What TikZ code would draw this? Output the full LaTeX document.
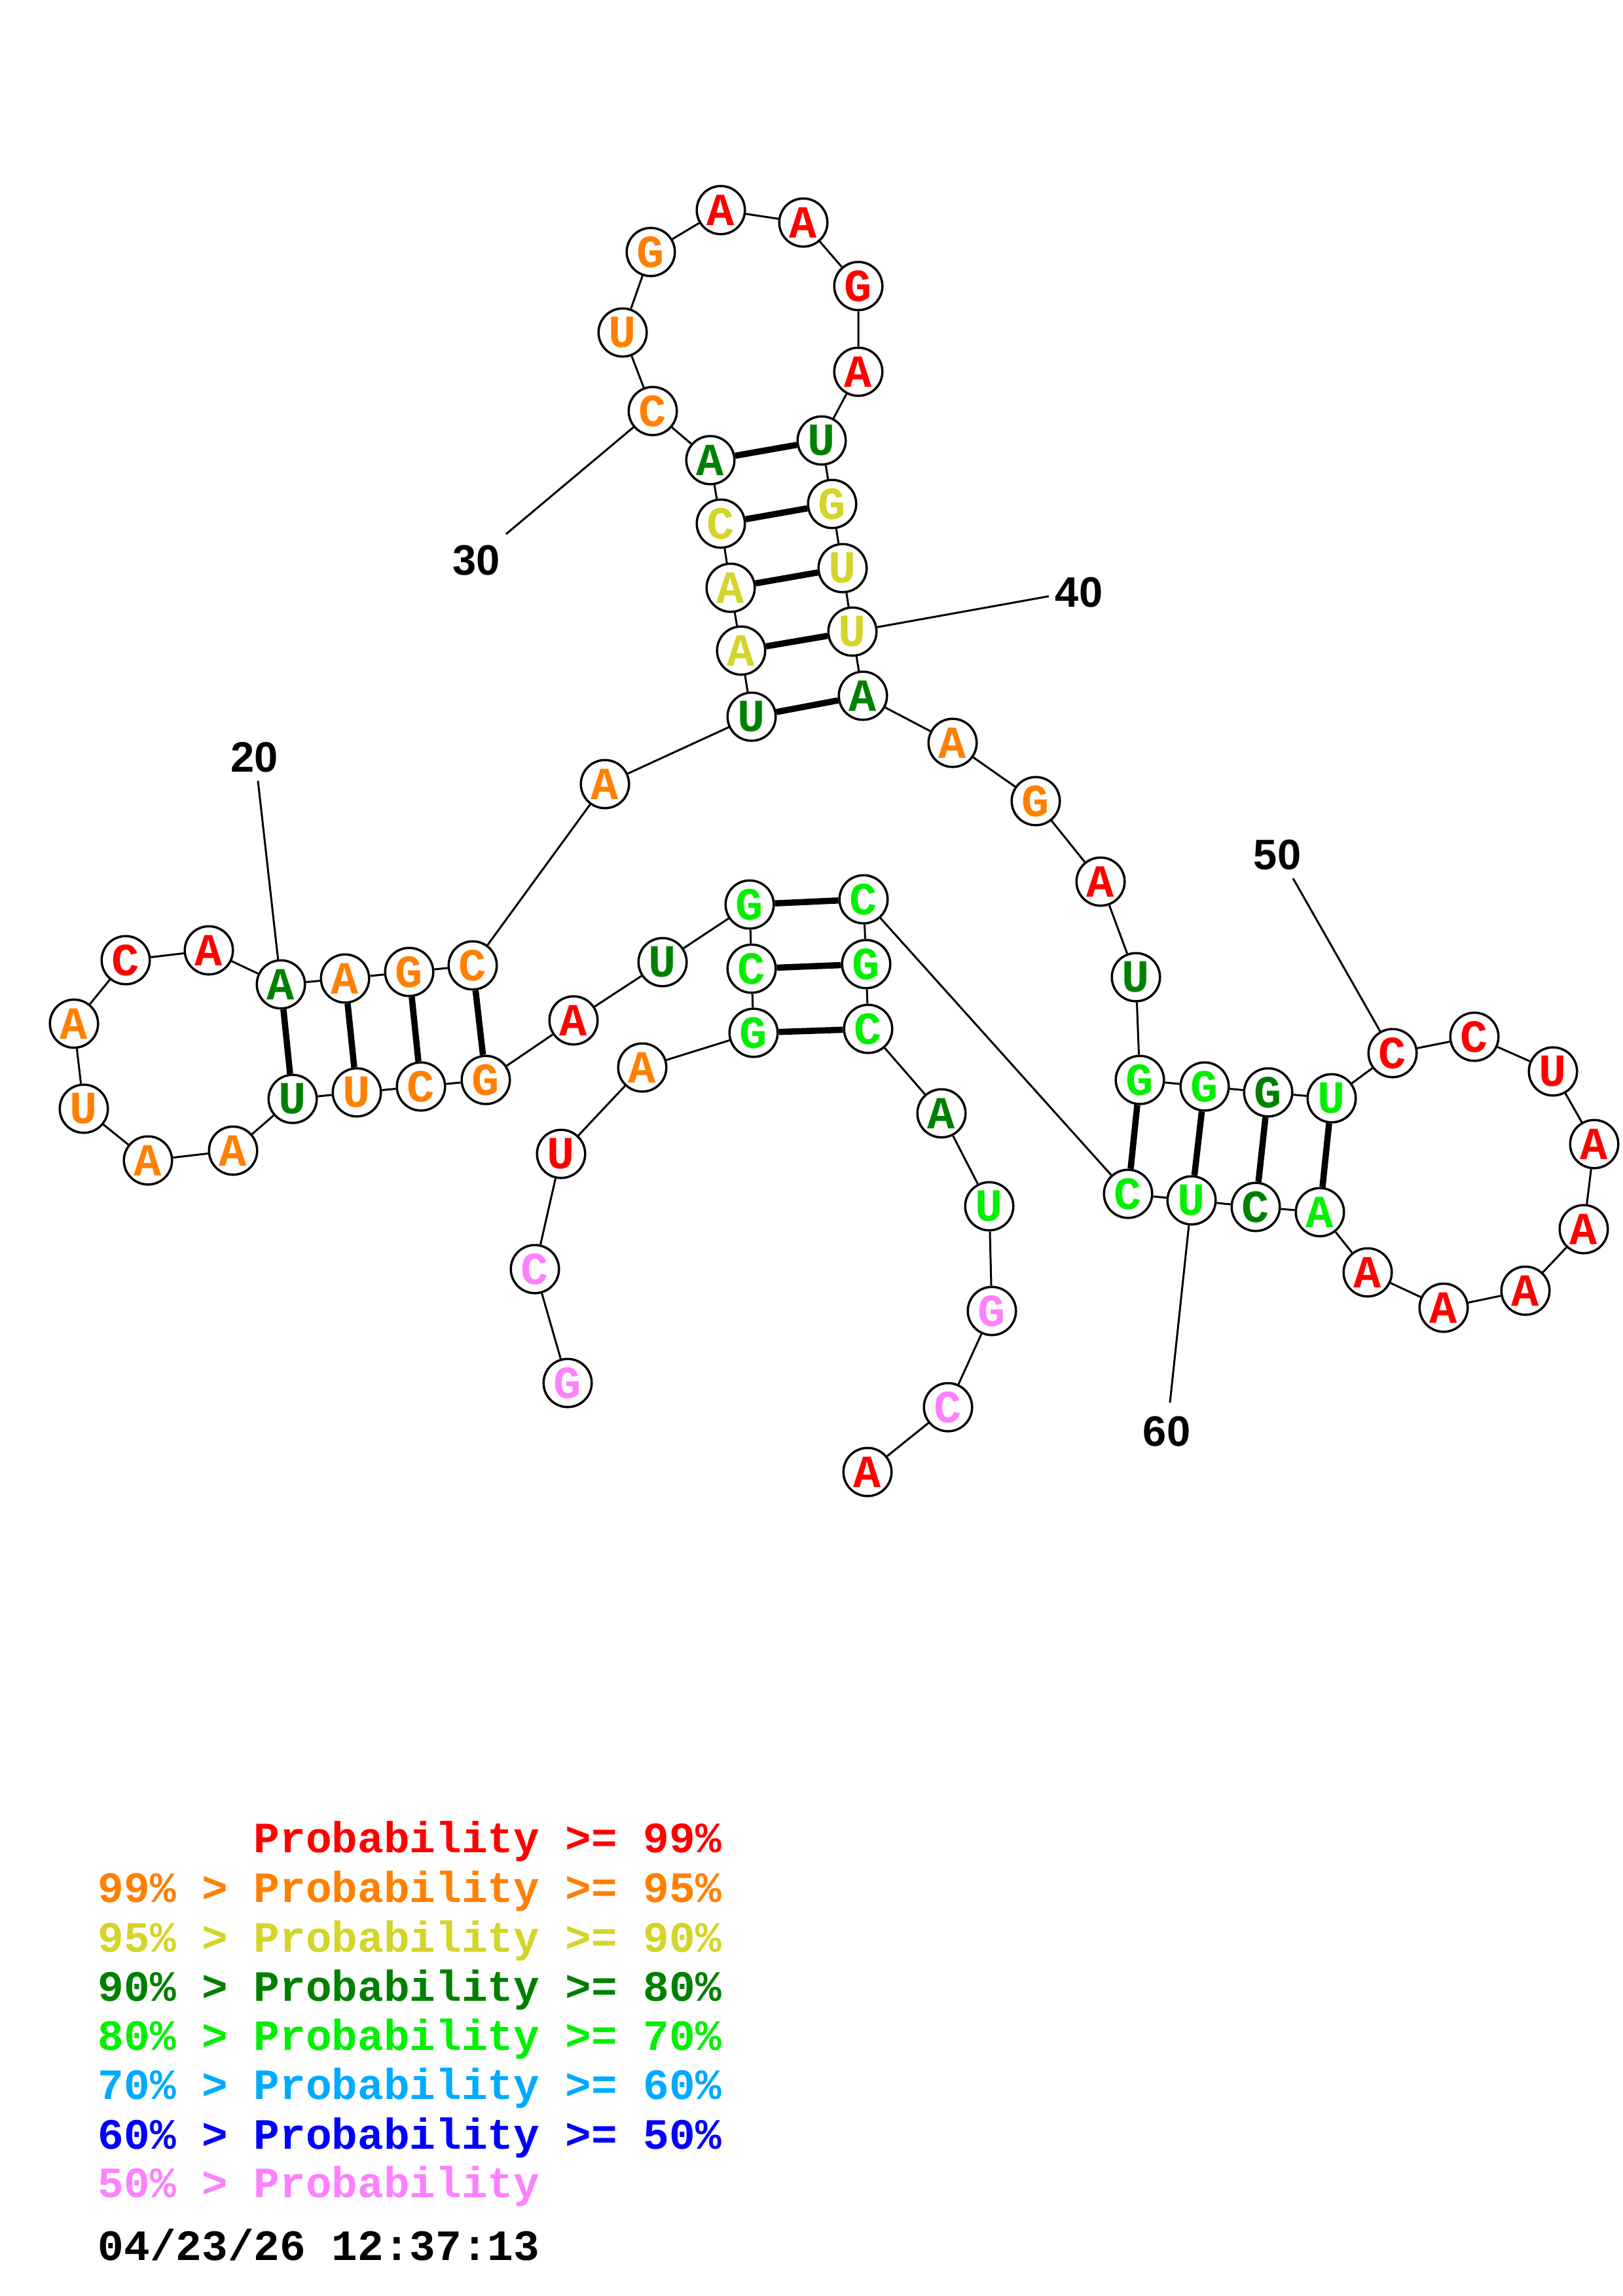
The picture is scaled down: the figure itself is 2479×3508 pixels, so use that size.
\documentclass[tikz,border=0pt]{standalone}
\usepackage{fontspec}
\newfontfamily\nucfont{Liberation Mono}
\newfontfamily\numfont{Liberation Sans}
\definecolor{prRed}{RGB}{255,0,0}
\definecolor{prOrange}{RGB}{255,128,0}
\definecolor{prYellow}{RGB}{212,212,42}
\definecolor{prDkGreen}{RGB}{0,128,0}
\definecolor{prGreen}{RGB}{0,240,0}
\definecolor{prCyan}{RGB}{0,170,255}
\definecolor{prBlue}{RGB}{0,0,255}
\definecolor{prPink}{RGB}{255,128,255}
\begin{document}
\begin{tikzpicture}[x=0.01cm, y=-0.01cm,
    nuc/.style={circle, draw, fill=white, line width=0.035cm, inner sep=0pt,
        minimum size=0.735cm, font=\nucfont\bfseries\fontsize{20}{20}\selectfont},
    backbone/.style={line width=0.03cm},
    pairbond/.style={line width=0.095cm},
    tickline/.style={line width=0.03cm},
    numlabel/.style={inner sep=0pt, font=\numfont\bfseries\fontsize{18.5}{18.5}\selectfont},
    legline/.style={anchor=base west, inner sep=0pt, font=\nucfont\bfseries\fontsize{18.8}{18.8}\selectfont}]
    \useasboundingbox (0,0) rectangle (2479,3508);
    % nucleotides, 5' to 3'
    \node[nuc, text=prPink] (n1) at (867,2113) {G};
    \node[nuc, text=prPink] (n2) at (817,1939) {C};
    \node[nuc, text=prRed] (n3) at (857,1763) {U};
    \node[nuc, text=prOrange] (n4) at (981,1631) {A};
    \node[nuc, text=prGreen] (n5) at (1151,1578) {G};
    \node[nuc, text=prGreen] (n6) at (1148,1480) {C};
    \node[nuc, text=prGreen] (n7) at (1145,1382) {G};
    \node[nuc, text=prDkGreen] (n8) at (1012,1470) {U};
    \node[nuc, text=prRed] (n9) at (876,1559) {A};
    \node[nuc, text=prOrange] (n10) at (742,1650) {G};
    \node[nuc, text=prOrange] (n11) at (643,1660) {C};
    \node[nuc, text=prOrange] (n12) at (545,1669) {U};
    \node[nuc, text=prDkGreen] (n13) at (447,1679) {U};
    \node[nuc, text=prOrange] (n14) at (356,1758) {A};
    \node[nuc, text=prOrange] (n15) at (226,1773) {A};
    \node[nuc, text=prOrange] (n16) at (128,1694) {U};
    \node[nuc, text=prOrange] (n17) at (113,1564) {A};
    \node[nuc, text=prRed] (n18) at (192,1467) {C};
    \node[nuc, text=prRed] (n19) at (319,1452) {A};
    \node[nuc, text=prDkGreen] (n20) at (429,1504) {A};
    \node[nuc, text=prOrange] (n21) at (527,1495) {A};
    \node[nuc, text=prOrange] (n22) at (625,1485) {G};
    \node[nuc, text=prOrange] (n23) at (722,1475) {C};
    \node[nuc, text=prOrange] (n24) at (924,1198) {A};
    \node[nuc, text=prDkGreen] (n25) at (1148,1095) {U};
    \node[nuc, text=prYellow] (n26) at (1132,994) {A};
    \node[nuc, text=prYellow] (n27) at (1116,898) {A};
    \node[nuc, text=prYellow] (n28) at (1101,800) {C};
    \node[nuc, text=prDkGreen] (n29) at (1085,703) {A};
    \node[nuc, text=prOrange] (n30) at (997,628) {C};
    \node[nuc, text=prOrange] (n31) at (951,508) {U};
    \node[nuc, text=prOrange] (n32) at (994,385) {G};
    \node[nuc, text=prRed] (n33) at (1101,321) {A};
    \node[nuc, text=prRed] (n34) at (1227,340) {A};
    \node[nuc, text=prRed] (n35) at (1311,437) {G};
    \node[nuc, text=prRed] (n36) at (1311,568) {A};
    \node[nuc, text=prDkGreen] (n37) at (1255,673) {U};
    \node[nuc, text=prYellow] (n38) at (1271,770) {G};
    \node[nuc, text=prYellow] (n39) at (1287,868) {U};
    \node[nuc, text=prYellow] (n40) at (1302,965) {U};
    \node[nuc, text=prDkGreen] (n41) at (1318,1063) {A};
    \node[nuc, text=prOrange] (n42) at (1455,1135) {A};
    \node[nuc, text=prOrange] (n43) at (1582,1224) {G};
    \node[nuc, text=prRed] (n44) at (1681,1347) {A};
    \node[nuc, text=prDkGreen] (n45) at (1735,1493) {U};
    \node[nuc, text=prGreen] (n46) at (1741,1650) {G};
    \node[nuc, text=prGreen] (n47) at (1840,1660) {G};
    \node[nuc, text=prDkGreen] (n48) at (1937,1669) {G};
    \node[nuc, text=prGreen] (n49) at (2034,1678) {U};
    \node[nuc, text=prRed] (n50) at (2127,1609) {C};
    \node[nuc, text=prRed] (n51) at (2252,1584) {C};
    \node[nuc, text=prRed] (n52) at (2372,1637) {U};
    \node[nuc, text=prRed] (n53) at (2435,1748) {A};
    \node[nuc, text=prRed] (n54) at (2419,1878) {A};
    \node[nuc, text=prRed] (n55) at (2330,1972) {A};
    \node[nuc, text=prRed] (n56) at (2205,1998) {A};
    \node[nuc, text=prRed] (n57) at (2089,1944) {A};
    \node[nuc, text=prGreen] (n58) at (2016,1852) {A};
    \node[nuc, text=prDkGreen] (n59) at (1918,1844) {C};
    \node[nuc, text=prGreen] (n60) at (1820,1834) {U};
    \node[nuc, text=prGreen] (n61) at (1723,1824) {C};
    \node[nuc, text=prGreen] (n62) at (1319,1374) {C};
    \node[nuc, text=prGreen] (n63) at (1323,1473) {G};
    \node[nuc, text=prGreen] (n64) at (1326,1572) {C};
    \node[nuc, text=prDkGreen] (n65) at (1438,1701) {A};
    \node[nuc, text=prGreen] (n66) at (1511,1843) {U};
    \node[nuc, text=prPink] (n67) at (1515,2003) {G};
    \node[nuc, text=prPink] (n68) at (1448,2150) {C};
    \node[nuc, text=prRed] (n69) at (1325,2249) {A};
    % backbone
    \draw[backbone] (n1) -- (n2) -- (n3) -- (n4) -- (n5) -- (n6) -- (n7) -- (n8)
        -- (n9) -- (n10) -- (n11) -- (n12) -- (n13) -- (n14) -- (n15) -- (n16)
        -- (n17) -- (n18) -- (n19) -- (n20) -- (n21) -- (n22) -- (n23) -- (n24)
        -- (n25) -- (n26) -- (n27) -- (n28) -- (n29) -- (n30) -- (n31) -- (n32)
        -- (n33) -- (n34) -- (n35) -- (n36) -- (n37) -- (n38) -- (n39) -- (n40)
        -- (n41) -- (n42) -- (n43) -- (n44) -- (n45) -- (n46) -- (n47) -- (n48)
        -- (n49) -- (n50) -- (n51) -- (n52) -- (n53) -- (n54) -- (n55) -- (n56)
        -- (n57) -- (n58) -- (n59) -- (n60) -- (n61) -- (n62) -- (n63) -- (n64)
        -- (n65) -- (n66) -- (n67) -- (n68) -- (n69);
    % base pairs
    \foreach \a/\b in {5/64, 6/63, 7/62, 10/23, 11/22, 12/21, 13/20, 25/41, 26/40,
        27/39, 28/38, 29/37, 46/61, 47/60, 48/59, 49/58}
        \draw[pairbond] (n\a) -- (n\b);
    % position labels
    \node[numlabel] (l20) at (389,1157) {20};
    \node[numlabel] (l30) at (728,856) {30};
    \node[numlabel] (l40) at (1648,905) {40};
    \node[numlabel] (l50) at (1951,1306) {50};
    \node[numlabel] (l60) at (1782,2187) {60};
    \coordinate (t20) at (394,1193);
    \coordinate (t30) at (773,816);
    \coordinate (t40) at (1602,911);
    \coordinate (t50) at (1975,1342);
    \coordinate (t60) at (1787,2143);
    \draw[tickline] (n20) -- (t20);
    \draw[tickline] (n30) -- (t30);
    \draw[tickline] (n40) -- (t40);
    \draw[tickline] (n50) -- (t50);
    \draw[tickline] (n60) -- (t60);
    % legend
    \node[legline, text=prRed] (leg99) at (149,2830) {\hphantom{99\% > }Probability >= 99\%};
    \node[legline, text=prOrange] (leg95) at (149,2906) {99\% > Probability >= 95\%};
    \node[legline, text=prYellow] (leg90) at (149,2982) {95\% > Probability >= 90\%};
    \node[legline, text=prDkGreen] (leg80) at (149,3057) {90\% > Probability >= 80\%};
    \node[legline, text=prGreen] (leg70) at (149,3132) {80\% > Probability >= 70\%};
    \node[legline, text=prCyan] (leg60) at (149,3207) {70\% > Probability >= 60\%};
    \node[legline, text=prBlue] (leg50) at (149,3283) {60\% > Probability >= 50\%};
    \node[legline, text=prPink] (leglow) at (149,3357) {50\% > Probability};
    \node[legline, text=black] (stamp) at (149,3453) {04/23/26 12:37:13};
\end{tikzpicture}
\end{document}
